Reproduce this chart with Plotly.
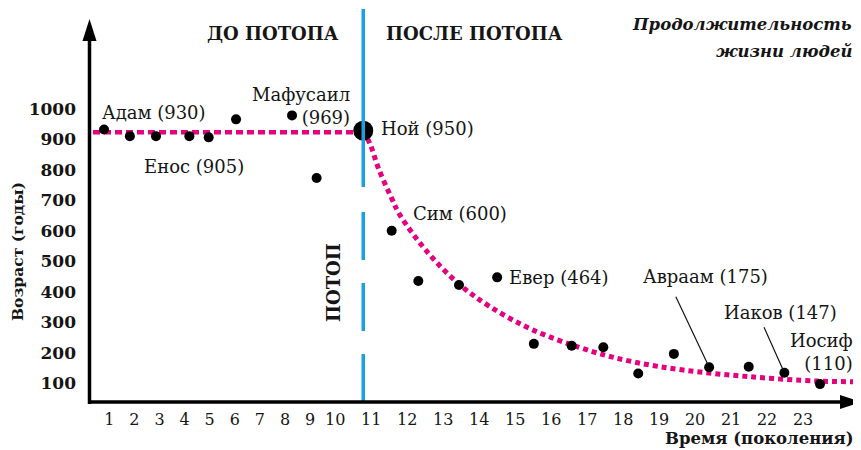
import plotly.graph_objects as go

# поколения и возраст (годы)
before_gen = [0.79, 1.82, 2.86, 4.19, 4.96, 6.05, 8.28, 9.26]
before_age = [933, 911, 911, 911, 907, 966, 979, 774]

noah_gen = 10.78
noah_age = 929

after_gen = [11.57, 12.31, 13.44, 14.50, 15.52, 16.57, 17.45, 18.42, 19.41, 20.39, 21.49, 22.48, 23.47]
after_age = [601, 436, 423, 448, 230, 224, 219, 133, 197, 153, 155, 135, 98]

# линии тренда
trend_before_gen = [0.35, 10.78]
trend_before_age = [924, 924]
trend_after_gen = [10.78, 10.98, 11.20, 11.57, 11.80, 12.59, 13.47, 14.30, 15.50, 17.17,
                   18.28, 19.67, 21.53, 23.38, 24.39]
trend_after_age = [929, 882, 806, 707, 652, 527, 423, 352, 275, 204, 171, 144, 122, 108, 106]

tick_gens = list(range(1, 24))
age_ticks = [100, 200, 300, 400, 500, 600, 700, 800, 900, 1000]

# после потопа шаг поколений на оси шире
STRETCH = 1.434


def to_axis(g):
    return g if g <= 10 else 10 + (g - 10) * STRETCH


def axis_list(gens):
    return [to_axis(g) for g in gens]


# страница сдвигает график на 8px (отступ body), поэтому фигура меньше
OFF = 8
W, H = 861 - OFF, 450 - OFF
PLOT_L, PLOT_T, PLOT_W, PLOT_H = 89 - OFF, 20 - OFF, 772, 382


def px(x):
    return (x - OFF - PLOT_L) / PLOT_W


def py(y):
    return (PLOT_T + PLOT_H - (y - OFF)) / PLOT_H


SERIF = "DejaVu Serif"
INK = "#151515"
PINK = "#e5007d"
BLUE = "#1ba1e2"

fig = go.Figure()

fig.add_trace(go.Scatter(
    x=axis_list(trend_before_gen), y=trend_before_age, mode="lines",
    line=dict(color=PINK, width=4.5, dash="7px,4px"), hoverinfo="skip",
))
fig.add_trace(go.Scatter(
    x=axis_list(trend_after_gen), y=trend_after_age, mode="lines",
    line=dict(color=PINK, width=5, dash="5px,4px", shape="spline"), hoverinfo="skip",
))
fig.add_trace(go.Scatter(
    x=axis_list(before_gen + after_gen), y=before_age + after_age, mode="markers",
    marker=dict(color="black", size=10),
))
fig.add_trace(go.Scatter(
    x=[to_axis(noah_gen)], y=[noah_age], mode="markers",
    marker=dict(color="black", size=20),
))

# линия потопа
flood_x = to_axis(noah_gen)
fig.add_shape(type="line", xref="x", yref="paper", x0=flood_x, x1=flood_x,
              y0=py(187), y1=py(9), line=dict(color=BLUE, width=3.5))
fig.add_shape(type="line", xref="x", yref="paper", x0=flood_x, x1=flood_x,
              y0=py(402), y1=py(206), line=dict(color=BLUE, width=3.5, dash="48px,23px"))

# оси со стрелками
fig.add_shape(type="line", xref="paper", yref="paper", x0=px(89.5), x1=px(89.5),
              y0=py(404), y1=py(36), line=dict(color="black", width=3.5))
fig.add_shape(type="path", xref="paper", yref="paper", fillcolor="black", line=dict(width=0),
              path=f"M{px(89.5)},{py(19)} L{px(82.5)},{py(41)} L{px(96.5)},{py(41)} Z")
fig.add_shape(type="line", xref="paper", yref="paper", x0=px(88), x1=px(846),
              y0=py(402), y1=py(402), line=dict(color="black", width=3.5))
fig.add_shape(type="path", xref="paper", yref="paper", fillcolor="black", line=dict(width=0),
              path=f"M{px(861)},{py(402)} L{px(840)},{py(395)} L{px(840)},{py(409)} Z")

label_font = dict(family=SERIF, size=18, color=INK)


def point_label(text, x, y, xshift, yshift, xanchor="left", align="left"):
    fig.add_annotation(x=to_axis(x), y=y, text=text, showarrow=False, xanchor=xanchor,
                       yanchor="middle", xshift=xshift, yshift=yshift, align=align,
                       font=label_font)


def pointer(x, y, ax, ay):
    fig.add_annotation(x=to_axis(x), y=y, text="", showarrow=True, arrowhead=0,
                       arrowwidth=1.2, arrowcolor=INK, ax=ax, ay=ay, standoff=3)


point_label("Адам (930)", before_gen[0], before_age[0], -4, 17)
point_label("Енос (905)", before_gen[2], before_age[2], -14, -30)
point_label("Мафусаил<br>(969)", before_gen[6], before_age[6], 60, 9, "right", "right")
point_label("Ной (950)", noah_gen, noah_age, 16, 2)
point_label("Сим (600)", after_gen[0], after_age[0], 19, 17)
point_label("Евер (464)", after_gen[3], after_age[3], 10, 0)
point_label("Авраам (175)", after_gen[9], after_age[9], -4, 91, "center")
pointer(after_gen[9], after_age[9], -34, -72)
point_label("Иаков (147)", after_gen[11], after_age[11], 55, 60, "right")
pointer(after_gen[11], after_age[11], -21, -47)
point_label("Иосиф<br>(110)", after_gen[12], after_age[12], 35, 32, "right", "right")


def text_at(text, x, y, xanchor="center", size=16, angle=0, **font):
    fig.add_annotation(xref="paper", yref="paper", x=px(x), y=py(y), text=text,
                       showarrow=False, xanchor=xanchor, yanchor="middle", textangle=angle,
                       align="right",
                       font=dict(family=SERIF, size=size, color=INK, weight="bold", **font))


text_at("ДО ПОТОПА", 273, 34, size=18)
text_at("ПОСЛЕ ПОТОПА", 474, 34, size=18)
text_at("Продолжительность", 854, 25, xanchor="right", size=16.5, style="italic")
text_at("жизни людей", 854, 51, xanchor="right", size=16.5, style="italic")
text_at("ПОТОП", 333, 283, size=18, angle=-90)
text_at("Возраст (годы)", 17, 252, size=15.5, angle=-90)
text_at("Время (поколения)", 856, 438, xanchor="right", size=16.5)

fig.update_layout(
    width=W, height=H,
    margin=dict(l=PLOT_L, r=W - PLOT_L - PLOT_W, t=PLOT_T, b=H - PLOT_T - PLOT_H),
    plot_bgcolor="white", paper_bgcolor="white",
    showlegend=False,
)
fig.update_xaxes(
    range=[0.191, 30.95], tickvals=axis_list(tick_gens), ticktext=[str(g) for g in tick_gens],
    showgrid=False, zeroline=False, showline=False, ticks="", ticklabelstandoff=6,
    tickfont=dict(family=SERIF, size=16, color=INK),
)
fig.update_yaxes(
    range=[39.3, 1291.8], tickvals=age_ticks, showgrid=False, zeroline=False, showline=False,
    ticks="", ticklabelstandoff=12,
    tickfont=dict(family=SERIF, size=17, color=INK, weight="bold"),
)

fig.write_html("out.html")
